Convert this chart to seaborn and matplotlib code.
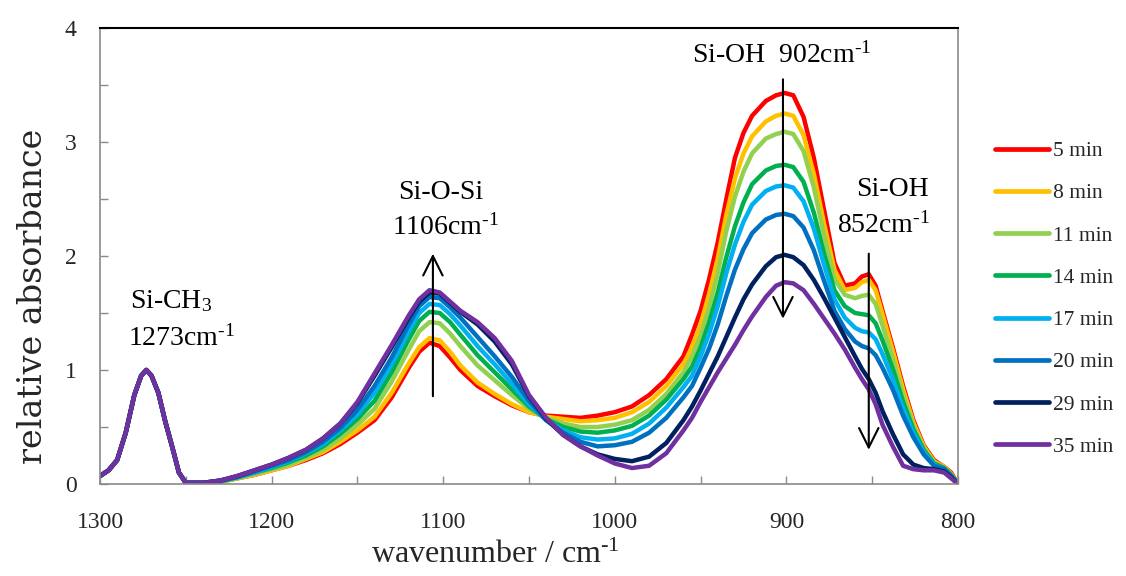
import matplotlib
matplotlib.use("Agg")
import matplotlib.pyplot as plt
import pandas as pd
import seaborn as sns
from matplotlib.ticker import MultipleLocator

# Wavenumber grid (cm^-1), high to low
wavenumber = [1300, 1295, 1290, 1285, 1280, 1276, 1273, 1270, 1266, 1262, 1258, 1254,
              1250, 1240, 1230, 1220, 1210, 1200, 1190, 1180, 1170, 1160,
              1150, 1140, 1130, 1120, 1114, 1108, 1102, 1096, 1090, 1080,
              1070, 1060, 1050, 1040, 1030, 1020, 1010, 1000, 990, 980,
              970, 960, 955, 950, 945, 940, 935, 930, 925, 920, 912, 906, 901, 896,
              890, 884, 878, 872, 866, 860, 856, 852, 848, 844,
              838, 832, 826, 820, 814, 808, 804, 800]

# Si-CH3 band (normalised to 1 at 1273 cm^-1), identical for every spectrum
si_ch3_band = [0.07, 0.12, 0.21, 0.45, 0.78, 0.95, 1.00, 0.95, 0.80, 0.55, 0.33, 0.10]

abs_5 = [0.01, 0.01, 0.02, 0.05, 0.08, 0.12, 0.16, 0.21, 0.27, 0.35,
         0.45, 0.56, 0.76, 1.02, 1.16, 1.24, 1.21, 1.11, 1.00, 0.86,
         0.77, 0.69, 0.63, 0.60, 0.59, 0.58, 0.60, 0.63, 0.68, 0.78,
         0.92, 1.12, 1.31, 1.52, 1.80, 2.12, 2.50, 2.86, 3.08, 3.23,
         3.36, 3.41, 3.43, 3.41,
         3.22, 2.86, 2.40, 1.94, 1.74, 1.76, 1.82, 1.84, 1.74, 1.52,
         1.20, 0.86, 0.56, 0.34, 0.21, 0.15, 0.10, 0.00]
abs_8 = [0.01, 0.01, 0.02, 0.05, 0.08, 0.12, 0.16, 0.22, 0.28, 0.37,
         0.47, 0.59, 0.80, 1.06, 1.20, 1.28, 1.26, 1.16, 1.04, 0.89,
         0.79, 0.70, 0.63, 0.59, 0.57, 0.55, 0.56, 0.58, 0.63, 0.72,
         0.86, 1.05, 1.20, 1.40, 1.67, 1.98, 2.36, 2.68, 2.90, 3.05,
         3.18, 3.23, 3.25, 3.23,
         3.06, 2.72, 2.28, 1.88, 1.70, 1.72, 1.77, 1.79, 1.70, 1.49,
         1.17, 0.83, 0.54, 0.33, 0.20, 0.15, 0.09, 0.00]
abs_11 = [0.01, 0.01, 0.02, 0.05, 0.09, 0.13, 0.17, 0.23, 0.30, 0.40,
          0.52, 0.66, 0.90, 1.18, 1.34, 1.42, 1.41, 1.32, 1.21, 1.04,
          0.91, 0.78, 0.66, 0.58, 0.53, 0.50, 0.50, 0.52, 0.56, 0.65,
          0.79, 0.98, 1.12, 1.30, 1.55, 1.85, 2.22, 2.52, 2.74, 2.90,
          3.03, 3.07, 3.09, 3.07,
          2.92, 2.60, 2.18, 1.80, 1.66, 1.63, 1.65, 1.66, 1.58, 1.39,
          1.10, 0.78, 0.51, 0.31, 0.19, 0.14, 0.08, 0.00]
abs_14 = [0.01, 0.01, 0.02, 0.06, 0.10, 0.14, 0.19, 0.25, 0.33, 0.44,
          0.57, 0.73, 0.98, 1.27, 1.43, 1.51, 1.50, 1.42, 1.31, 1.13,
          0.98, 0.83, 0.68, 0.57, 0.50, 0.46, 0.45, 0.47, 0.51, 0.60,
          0.74, 0.92, 1.03, 1.20, 1.42, 1.68, 1.99, 2.26, 2.47, 2.63,
          2.75, 2.79, 2.80, 2.78,
          2.65, 2.38, 2.02, 1.70, 1.56, 1.50, 1.49, 1.48, 1.41, 1.26,
          1.01, 0.72, 0.48, 0.30, 0.18, 0.14, 0.08, 0.00]
abs_17 = [0.01, 0.01, 0.03, 0.06, 0.10, 0.15, 0.20, 0.27, 0.35, 0.47,
          0.61, 0.80, 1.05, 1.34, 1.50, 1.58, 1.57, 1.49, 1.39, 1.21,
          1.05, 0.88, 0.70, 0.56, 0.47, 0.41, 0.39, 0.40, 0.44, 0.53,
          0.67, 0.85, 0.95, 1.12, 1.32, 1.56, 1.85, 2.10, 2.30, 2.45,
          2.57, 2.61, 2.62, 2.60,
          2.48, 2.24, 1.92, 1.62, 1.46, 1.37, 1.34, 1.33, 1.27, 1.14,
          0.92, 0.66, 0.45, 0.28, 0.17, 0.13, 0.07, 0.00]
abs_20 = [0.01, 0.01, 0.03, 0.06, 0.11, 0.16, 0.21, 0.28, 0.37, 0.49,
          0.65, 0.86, 1.11, 1.40, 1.56, 1.64, 1.63, 1.55, 1.46, 1.29,
          1.12, 0.94, 0.73, 0.56, 0.45, 0.37, 0.33, 0.34, 0.37, 0.45,
          0.58, 0.76, 0.86, 1.02, 1.19, 1.40, 1.65, 1.88, 2.06, 2.20,
          2.32, 2.36, 2.37, 2.35,
          2.25, 2.05, 1.78, 1.52, 1.36, 1.25, 1.21, 1.19, 1.13, 1.02,
          0.83, 0.60, 0.41, 0.26, 0.16, 0.13, 0.07, 0.00]
abs_29 = [0.01, 0.01, 0.03, 0.07, 0.12, 0.17, 0.23, 0.30, 0.40, 0.53,
          0.71, 0.95, 1.20, 1.46, 1.60, 1.68, 1.67, 1.59, 1.51, 1.40,
          1.25, 1.05, 0.77, 0.57, 0.43, 0.33, 0.26, 0.22, 0.20, 0.24,
          0.36, 0.56, 0.68, 0.82, 0.97, 1.12, 1.29, 1.46, 1.62, 1.75,
          1.91, 1.99, 2.01, 1.99,
          1.92, 1.79, 1.63, 1.46, 1.29, 1.12, 1.01, 0.92, 0.80, 0.64,
          0.44, 0.26, 0.17, 0.14, 0.13, 0.11, 0.06, 0.00]
abs_35 = [0.01, 0.01, 0.03, 0.07, 0.12, 0.17, 0.23, 0.30, 0.40, 0.53,
          0.72, 0.97, 1.22, 1.48, 1.62, 1.70, 1.68, 1.60, 1.52, 1.42,
          1.28, 1.08, 0.78, 0.58, 0.43, 0.33, 0.25, 0.18, 0.14, 0.16,
          0.27, 0.47, 0.58, 0.72, 0.85, 0.98, 1.10, 1.22, 1.35, 1.47,
          1.64, 1.74, 1.77, 1.76,
          1.70, 1.58, 1.45, 1.32, 1.18, 1.02, 0.92, 0.83, 0.70, 0.52,
          0.33, 0.16, 0.13, 0.12, 0.12, 0.10, 0.05, 0.00]

time_labels = ["5 min", "8 min", "11 min", "14 min", "17 min", "20 min", "29 min", "35 min"]
series = [abs_5, abs_8, abs_11, abs_14, abs_17, abs_20, abs_29, abs_35]
colors = ["#FF0000", "#FFC000", "#92D050", "#00B050", "#00B0F0", "#0070C0", "#002060", "#7030A0"]

rows = []
for label, vals in zip(time_labels, series):
    for wn, a in zip(wavenumber, si_ch3_band + vals):
        rows.append({"wavenumber": wn, "absorbance": a, "time": label})
df = pd.DataFrame(rows)

sns.set_style("ticks")
plt.rcParams["font.family"] = ["Liberation Serif", "DejaVu Serif"]
plt.rcParams["mathtext.default"] = "regular"

fig = plt.figure(figsize=(11.26, 5.76), dpi=100)
ax = fig.add_axes([100 / 1126, 92 / 576, 858 / 1126, 456 / 576])

sns.lineplot(data=df, x="wavenumber", y="absorbance", hue="time",
             hue_order=time_labels, palette=colors, linewidth=3.2,
             sort=False, estimator=None, ax=ax)
for line in ax.lines:
    line.set_solid_joinstyle("round")
    line.set_solid_capstyle("round")

ax.set_xlim(1300, 800)
ax.set_ylim(0, 4)
ax.set_xticks([1300, 1200, 1100, 1000, 900, 800])
ax.xaxis.set_minor_locator(MultipleLocator(50))
ax.set_yticks([0, 1, 2, 3, 4])
ax.yaxis.set_minor_locator(MultipleLocator(0.5))
ax.tick_params(which="both", direction="in", length=6, width=1, color="#8a8a8a")
ax.tick_params(axis="x", which="major", pad=20, labelsize=17)
ax.tick_params(axis="y", which="major", pad=17, labelsize=17)
ax.set_xlabel("")
ax.set_ylabel("")

for side in ("left", "bottom", "right"):
    ax.spines[side].set_color("#8a8a8a")
    ax.spines[side].set_linewidth(1.2)
ax.spines["top"].set_color("black")
ax.spines["top"].set_linewidth(1.5)

fig.text(33 / 1126, 1 - 296 / 576, "relative absorbance", rotation=90,
         ha="center", va="center", fontsize=24, family="DejaVu Serif")
fig.text(495 / 1126, 1 - 555 / 576, "wavenumber / cm$^{\u20101}$",
         ha="center", va="center", fontsize=23)

# Legend on the right
handles, labels = ax.get_legend_handles_labels()
leg = ax.legend(handles, labels, loc="upper left",
                bbox_to_anchor=(995 / 1126, 1 - 141 / 576),
                bbox_transform=fig.transFigure, frameon=False,
                borderpad=0, borderaxespad=0, handlelength=2.5,
                handletextpad=0.2, labelspacing=1.03, fontsize=15.5)
for line in leg.get_lines():
    line.set_linewidth(3.4)

# Band annotations
txt = dict(fontsize=20, color="black")
arrow = dict(arrowstyle="->,head_length=0.7,head_width=0.35",
             color="black", lw=1.5, mutation_scale=20, shrinkA=0, shrinkB=0)
sup = "$^{\u20101}$"

ax.text(1282.5, 1.60, "Si-CH$_3$", ha="left", va="center", **txt)
ax.text(1283.7, 1.28, "1273cm" + sup, ha="left", va="center", **txt)

ax.text(1101.5, 2.56, "Si-O-Si", ha="center", va="center", **txt)
ax.text(1099.0, 2.25, "1106cm" + sup, ha="center", va="center", **txt)
ax.annotate("", xy=(1106, 2.02), xytext=(1106, 0.77), arrowprops=arrow)

ax.text(955.0, 3.76, "Si-OH  902cm" + sup, ha="left", va="center", **txt)
ax.annotate("", xy=(902, 1.45), xytext=(902, 3.55), arrowprops=arrow)

ax.text(838.0, 2.58, "Si-OH", ha="center", va="center", **txt)
ax.text(843.5, 2.27, "852cm" + sup, ha="center", va="center", **txt)
ax.annotate("", xy=(852, 0.30), xytext=(852, 2.02), arrowprops=arrow)

fig.savefig("out.png", dpi=100)
